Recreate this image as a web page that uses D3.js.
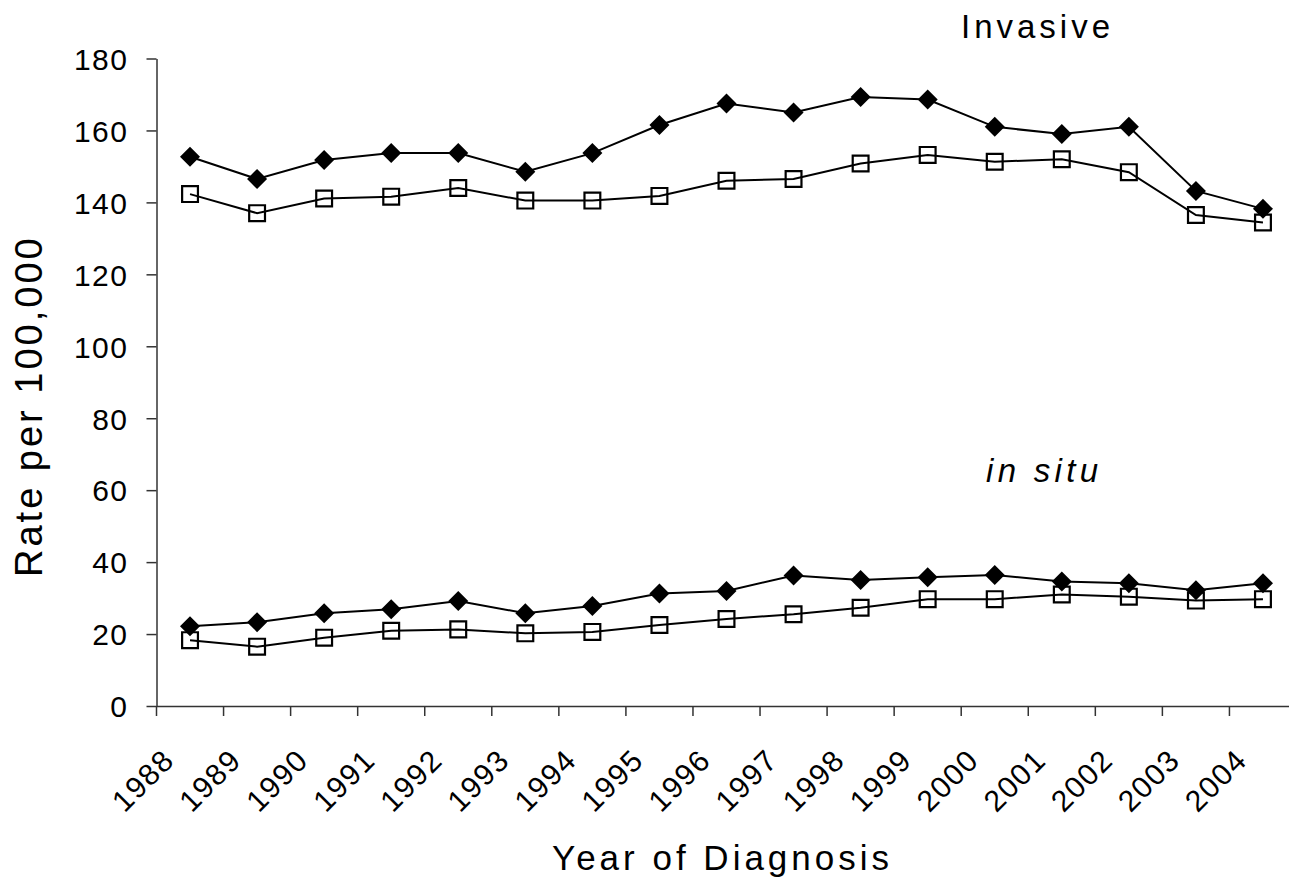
<!DOCTYPE html>
<meta charset="utf-8">
<script src="https://d3js.org/d3.v7.min.js"></script>
<title>Rate per 100,000 by Year of Diagnosis</title>

<style>
  body { margin: 0; background: #fff; }
  text { font-family: "Liberation Sans", Arial, Helvetica, sans-serif; fill: #000; }
</style>

<div id="my_dataviz"></div>

<script>

  // categories
  var years = ["1988", "1989", "1990", "1991", "1992", "1993", "1994", "1995", "1996",
               "1997", "1998", "1999", "2000", "2001", "2002", "2003", "2004"];

  // invasive, filled diamonds and open squares
  var invasiveDiamond = [152.7, 146.5, 151.8, 153.7, 153.7, 148.5, 153.7, 161.5, 167.5,
                         165.0, 169.3, 168.6, 161.0, 159.0, 161.0, 143.2, 138.2];
  var invasiveSquare  = [142.3, 137.0, 141.1, 141.6, 144.0, 140.5, 140.5, 141.8, 146.0,
                         146.5, 150.8, 153.2, 151.3, 152.0, 148.4, 136.5, 134.4];

  // in situ, filled diamonds and open squares
  var inSituDiamond = [22.2, 23.3, 25.8, 26.9, 29.2, 25.8, 27.8, 31.3, 32.0,
                       36.3, 35.0, 35.8, 36.4, 34.6, 34.1, 32.2, 34.1];
  var inSituSquare  = [18.3, 16.5, 19.0, 20.9, 21.3, 20.2, 20.6, 22.5, 24.2,
                       25.5, 27.3, 29.7, 29.7, 31.0, 30.4, 29.3, 29.7];

  var yTicks = [0, 20, 40, 60, 80, 100, 120, 140, 160, 180];

  var width = 1289, height = 882;

  var svg = d3.select("#my_dataviz")
    .append("svg")
      .attr("width", width)
      .attr("height", height);

  // scales
  var x = d3.scaleBand()
    .domain(years)
    .range([156.5, 1296.5])
    .padding(0);

  var y = d3.scaleLinear()
    .domain([0, 180])
    .range([706, 58.5]);

  var cx = function(i) { return x(years[i]) + x.bandwidth() / 2; };

  // y axis
  var yAxis = svg.append("g")
    .attr("transform", "translate(156.5,0)")
    .call(d3.axisLeft(y).tickValues(yTicks).tickSizeInner(10).tickSizeOuter(0).tickPadding(18));
  yAxis.selectAll("path, line").attr("stroke", "#333").attr("stroke-width", 1.5);
  yAxis.selectAll("text")
    .attr("font-family", "Liberation Sans, Arial, sans-serif")
    .attr("font-size", 30)
    .attr("letter-spacing", 1.5)
    .attr("dy", "0.36em");

  // x axis: labels at band centres, ticks at band edges
  var xAxis = svg.append("g")
    .attr("transform", "translate(0,706)")
    .call(d3.axisBottom(x).tickSize(0).tickSizeOuter(0));
  xAxis.select(".domain").attr("stroke", "#333").attr("stroke-width", 1.5);
  xAxis.selectAll(".tick line").remove();
  xAxis.selectAll(".tick text")
    .attr("font-family", "Liberation Sans, Arial, sans-serif")
    .attr("font-size", 30)
    .attr("letter-spacing", 1.5)
    .attr("text-anchor", "end")
    .attr("y", 0)
    .attr("dy", 0)
    .attr("transform", "translate(-14,56) rotate(-45)");

  xAxis.selectAll(".edge")
    .data(years)
    .enter()
    .append("line")
      .attr("class", "edge")
      .attr("x1", function(d) { return x(d); })
      .attr("x2", function(d) { return x(d); })
      .attr("y1", 0)
      .attr("y2", 10)
      .attr("stroke", "#333")
      .attr("stroke-width", 1.5);

  // lines and markers
  var line = d3.line()
    .x(function(d, i) { return cx(i); })
    .y(function(d) { return y(d); });

  var series = [
    {values: invasiveDiamond, marker: "diamond"},
    {values: invasiveSquare, marker: "square"},
    {values: inSituDiamond, marker: "diamond"},
    {values: inSituSquare, marker: "square"}
  ];

  series.forEach(function(s) {
    svg.append("path")
      .attr("d", line(s.values))
      .attr("fill", "none")
      .attr("stroke", "#000")
      .attr("stroke-width", 2);
  });

  series.forEach(function(s) {
    var g = svg.append("g");
    if (s.marker == "diamond") {
      g.selectAll("path")
        .data(s.values)
        .enter()
        .append("path")
          .attr("d", d3.symbol(d3.symbolSquare, 200)())
          .attr("transform", function(d, i) { return "translate(" + cx(i) + "," + y(d) + ") rotate(45)"; })
          .attr("fill", "#000");
    } else {
      g.selectAll("path")
        .data(s.values)
        .enter()
        .append("path")
          .attr("d", d3.symbol(d3.symbolSquare, 250)())
          .attr("transform", function(d, i) { return "translate(" + cx(i) + "," + y(d) + ")"; })
          .attr("fill", "none")
          .attr("stroke", "#000")
          .attr("stroke-width", 2.2);
    }
  });

  // annotations
  svg.append("text")
    .attr("x", 961)
    .attr("y", 38)
    .attr("font-size", 33)
    .attr("letter-spacing", 4)
    .text("Invasive");

  svg.append("text")
    .attr("x", 986)
    .attr("y", 482)
    .attr("font-size", 33)
    .attr("font-style", "italic")
    .attr("letter-spacing", 4.3)
    .text("in situ");

  // axis titles
  svg.append("text")
    .attr("x", 552)
    .attr("y", 870)
    .attr("font-size", 35)
    .attr("letter-spacing", 4)
    .text("Year of Diagnosis");

  svg.append("text")
    .attr("transform", "translate(42,577) rotate(-90)")
    .attr("font-size", 38)
    .attr("letter-spacing", 3)
    .text("Rate per 100,000");

</script>
